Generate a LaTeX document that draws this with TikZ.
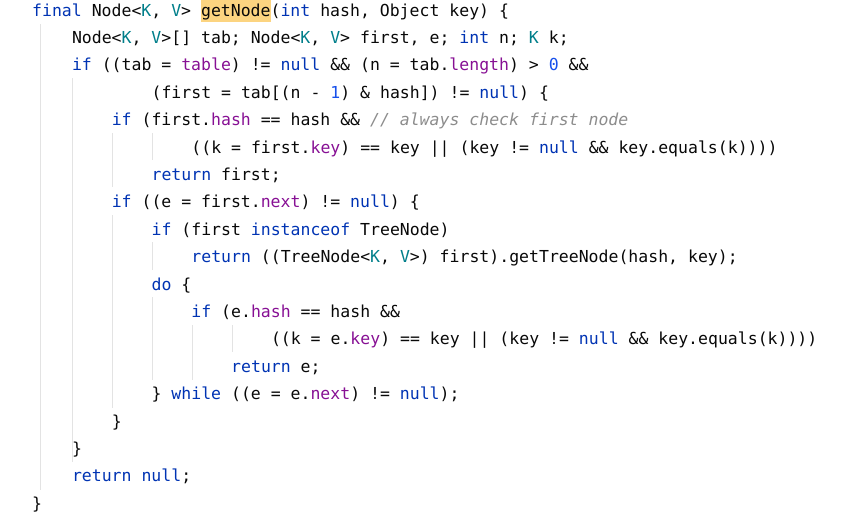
\documentclass[tikz,border=0pt]{standalone}
\usepackage{fontspec}
\setmainfont{DejaVu Sans Mono}
\definecolor{kw}{HTML}{0033B3}
\definecolor{fld}{HTML}{871094}
\definecolor{tp}{HTML}{007E8A}
\definecolor{num}{HTML}{1750EB}
\definecolor{cmt}{HTML}{8C8C8C}
\definecolor{hl}{HTML}{FCD480}
\definecolor{guide}{HTML}{E3E3E3}
\definecolor{txt}{HTML}{080808}
\newcommand{\K}[1]{\textcolor{kw}{#1}}
\newcommand{\F}[1]{\textcolor{fld}{#1}}
\newcommand{\T}[1]{\textcolor{tp}{#1}}
\newcommand{\N}[1]{\textcolor{num}{#1}}
\newcommand{\C}[1]{\textcolor{cmt}{\itshape #1}}
\begin{document}
\begin{tikzpicture}[x=1pt,y=-1pt,
  code/.style={anchor=base west,inner sep=0pt,font=\fontsize{16.5}{20}\selectfont,text=txt},
  g/.style={draw=guide,line width=1pt}]
\useasboundingbox (0,0) rectangle (858,517);
\fill[hl] (201,0) rectangle (271,22);
% guides
\draw[g] (40,24) -- (40,490);
\draw[g] (72,78) -- (72,462);
\draw[g] (112,133) -- (112,187);
\draw[g] (112,215) -- (112,408);
\draw[g] (152,133) -- (152,160);
\draw[g] (152,242) -- (152,270);
\draw[g] (152,297) -- (152,380);
\draw[g] (192,325) -- (192,380);
\draw[g] (232,325) -- (232,352);
\def\L#1#2#3{\node[code] (l#1) at ({32+#2*9.95},{16+(#1-1)*27.4}) {#3};}
\L{1}{0}{\K{final} Node<\T{K}, \T{V}> getNode(\K{int} hash, Object key) \{}
\L{2}{4}{Node<\T{K}, \T{V}>[] tab; Node<\T{K}, \T{V}> first, e; \K{int} n; \T{K} k;}
\L{3}{4}{\K{if} ((tab = \F{table}) != \K{null} \&\& (n = tab.\F{length}) > \N{0} \&\&}
\L{4}{12}{(first = tab[(n - \N{1}) \& hash]) != \K{null}) \{}
\L{5}{8}{\K{if} (first.\F{hash} == hash \&\& \C{// always check first node}}
\L{6}{16}{((k = first.\F{key}) == key || (key != \K{null} \&\& key.equals(k))))}
\L{7}{12}{\K{return} first;}
\L{8}{8}{\K{if} ((e = first.\F{next}) != \K{null}) \{}
\L{9}{12}{\K{if} (first \K{instanceof} TreeNode)}
\L{10}{16}{\K{return} ((TreeNode<\T{K}, \T{V}>) first).getTreeNode(hash, key);}
\L{11}{12}{\K{do} \{}
\L{12}{16}{\K{if} (e.\F{hash} == hash \&\&}
\L{13}{24}{((k = e.\F{key}) == key || (key != \K{null} \&\& key.equals(k))))}
\L{14}{20}{\K{return} e;}
\L{15}{12}{\} \K{while} ((e = e.\F{next}) != \K{null});}
\L{16}{8}{\}}
\L{17}{4}{\}}
\L{18}{4}{\K{return} \K{null};}
\L{19}{0}{\}}
\end{tikzpicture}
\end{document}
